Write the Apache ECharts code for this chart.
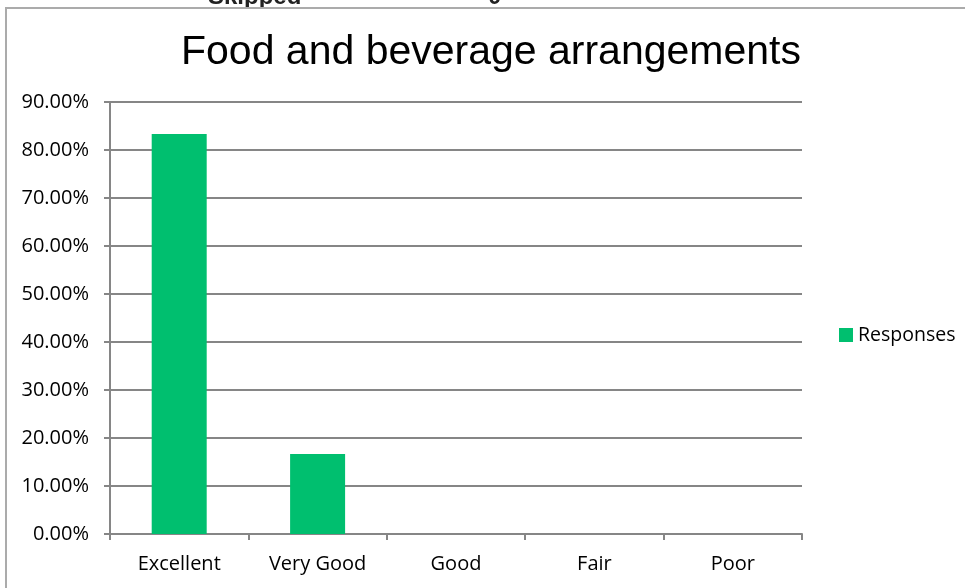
<!DOCTYPE html>
<html>
<head>
<meta charset="utf-8">
<script src="https://cdn.jsdelivr.net/npm/echarts@6/dist/echarts.min.js"></script>
<style>html,body{margin:0;padding:0;background:#fff}#c{width:965px;height:588px}</style>
</head>
<body>
<div id="c"></div>
<script>
const categories = ['Excellent', 'Very Good', 'Good', 'Fair', 'Poor'];
const responses = [83.33, 16.67, 0, 0, 0];
const yTicks = { min: 0, max: 90, interval: 10 };

const chart = echarts.init(document.getElementById('c'));
const labelFont = '"Open Sans", "Noto Sans", sans-serif';
chart.setOption({
  backgroundColor: '#fff',
  animation: false,
  title: {
    text: 'Food and beverage arrangements',
    left: 486, top: 27, textAlign: 'center',
    textStyle: { fontFamily: '"Liberation Sans", Arial, sans-serif', fontSize: 41, fontWeight: 'normal', color: '#000' }
  },
  legend: {
    data: ['Responses'],
    orient: 'vertical',
    left: 834, top: 320,
    itemWidth: 14, itemHeight: 14, itemGap: 6,
    icon: 'rect',
    textStyle: { fontFamily: labelFont, fontSize: 19.5, color: '#000' }
  },
  grid: { left: 110, right: 163, top: 102, bottom: 54, containLabel: false },
  xAxis: {
    type: 'category',
    data: categories,
    axisLine: { lineStyle: { color: '#868686', width: 2 } },
    axisTick: { show: true, length: 6, alignWithLabel: false, lineStyle: { color: '#868686', width: 2 } },
    axisLabel: { color: '#000', fontFamily: labelFont, fontSize: 20, margin: 20 },
    splitLine: { show: false }
  },
  yAxis: {
    type: 'value',
    min: yTicks.min, max: yTicks.max, interval: yTicks.interval,
    axisLine: { show: true, lineStyle: { color: '#868686', width: 2 } },
    axisTick: { show: true, length: 6, lineStyle: { color: '#868686', width: 2 } },
    axisLabel: { color: '#000', fontFamily: labelFont, fontSize: 20, margin: 21, formatter: v => v.toFixed(2) + '%' },
    splitLine: { show: true, lineStyle: { color: '#868686', width: 2 } }
  },
  series: [{
    name: 'Responses',
    type: 'bar',
    data: responses,
    barWidth: 55,
    itemStyle: { color: '#00BF6F' }
  }],
  graphic: [
    { type: 'rect', shape: { x: 6, y: 8, width: 1000, height: 620 }, style: { fill: 'none', stroke: '#ababab', lineWidth: 2 }, z: 100 },
    { type: 'text', left: 208, top: -15, style: { text: 'Skipped', font: 'bold 24px "Liberation Sans", Arial, sans-serif', fill: '#222' } },
    { type: 'text', left: 488, top: -15, style: { text: '0', font: 'bold 24px "Liberation Sans", Arial, sans-serif', fill: '#222' } }
  ]
});
</script>
</body>
</html>
